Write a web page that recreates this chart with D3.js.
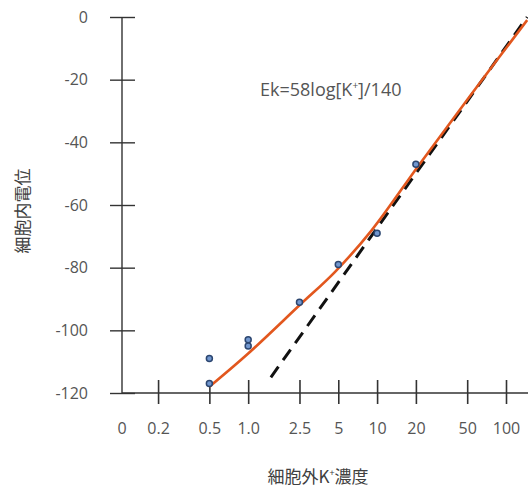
<!DOCTYPE html>
<html>
<head>
<meta charset="utf-8">
<script src="https://cdn.jsdelivr.net/npm/d3@7"></script>
<style type="text/css">
	body { margin:0; background:#fff; }
	svg text { font-family:"Open Sans", "Noto Sans", sans-serif; fill:#555; }
	.cjk { font-family:"Noto Sans CJK JP", "Noto Sans", sans-serif; fill:#404040; }
</style>
</head>
<body>
<svg id="chart" width="528" height="488"></svg>
<script type="text/javascript">
	// x: extracellular K+ (mM), y: membrane potential (mV)
	var xTicks = [0.2, 0.5, 1, 2.5, 5, 10, 20, 50, 100];
	var xTickLabels = ["0.2", "0.5", "1.0", "2.5", "5", "10", "20", "50", "100"];
	var yTicks = [0, -20, -40, -60, -80, -100, -120];

	// measured points
	var ptK = [0.5, 0.5, 1, 1, 2.5, 5, 10, 20];
	var ptV = [-109, -117, -103, -105, -91, -79, -69, -47];

	// orange fitted curve
	var fitK = [0.5, 1, 2.5, 4.7, 9.1, 20.8, 52.6, 146];
	var fitV = [-118, -107.4, -92, -81.4, -68, -47.6, -25.2, -1];

	// dashed Nernst line
	var nernstK = [1.5, 146];
	var nernstV = [-115, 0];

	var svg = d3.select("#chart");

	var x = d3.scaleLog().domain([0.105, 100]).range([122, 506]),
	    y = d3.scaleLinear().domain([0, -120]).range([17, 393]);

	// y axis
	var gy = svg.append("g")
	    .attr("transform", "translate(122,0)")
	    .call(d3.axisLeft(y).tickValues(yTicks).tickFormat(function(d){ return d; }));
	gy.select(".domain").remove();
	gy.selectAll(".tick line").attr("x1", -12).attr("x2", 13).attr("stroke", "#333").attr("stroke-width", 1.4);
	gy.selectAll(".tick text").attr("x", -34).attr("font-size", 16).attr("font-family", null).attr("fill", null);
	svg.append("line")
	    .attr("x1", 122).attr("x2", 122).attr("y1", y(0)).attr("y2", y(-120))
	    .attr("stroke", "#333").attr("stroke-width", 1.4);

	// x axis
	var gx = svg.append("g")
	    .attr("transform", "translate(0," + y(-120) + ")")
	    .call(d3.axisBottom(x).tickValues(xTicks).tickFormat(function(d, i){ return xTickLabels[i]; }));
	gx.select(".domain").remove();
	gx.selectAll(".tick line").attr("y1", -13).attr("y2", 11).attr("stroke", "#333").attr("stroke-width", 1.6);
	gx.selectAll(".tick text").attr("y", 30).attr("font-size", 16).attr("font-family", null).attr("fill", null);
	gx.append("text")
	    .attr("x", x.range()[0]).attr("y", 30).attr("dy", "0.71em")
	    .attr("text-anchor", "middle").attr("font-size", 16)
	    .text("0");
	svg.append("line")
	    .attr("x1", 122).attr("x2", 528).attr("y1", y(-120)).attr("y2", y(-120))
	    .attr("stroke", "#333").attr("stroke-width", 1.4);

	// dashed line
	var line = d3.line()
	    .x(function(d){ return x(d[0]); })
	    .y(function(d){ return y(d[1]); });

	svg.append("path")
	    .datum(d3.zip(nernstK, nernstV))
	    .attr("d", line)
	    .attr("fill", "none")
	    .attr("stroke", "#111")
	    .attr("stroke-width", 3)
	    .attr("stroke-dasharray", "13,8");

	// fitted curve
	svg.append("path")
	    .datum(d3.zip(fitK, fitV))
	    .attr("d", line.curve(d3.curveCatmullRom.alpha(0.5)))
	    .attr("fill", "none")
	    .attr("stroke", "#e2571e")
	    .attr("stroke-width", 2.6);

	// points
	svg.selectAll(".pt")
	    .data(d3.zip(ptK, ptV))
	    .enter().append("circle")
	      .attr("class", "pt")
	      .attr("cx", function(d){ return x(d[0]); })
	      .attr("cy", function(d){ return y(d[1]); })
	      .attr("r", 3)
	      .attr("fill", "#7197cf")
	      .attr("stroke", "#2c4670")
	      .attr("stroke-width", 1.5);

	// equation
	var eq = svg.append("text")
	    .attr("x", 260).attr("y", 96)
	    .attr("font-size", 18);
	eq.append("tspan").text("Ek=58log[K");
	eq.append("tspan").attr("font-size", 10).attr("dy", -7).text("+");
	eq.append("tspan").attr("dy", 7).text("]/140");

	// axis titles
	var xt = svg.append("text")
	    .attr("class", "cjk")
	    .attr("x", 318).attr("y", 483)
	    .attr("text-anchor", "middle")
	    .attr("font-size", 17);
	xt.append("tspan").text("細胞外K");
	xt.append("tspan").attr("font-size", 9).attr("dy", -7).text("+");
	xt.append("tspan").attr("dy", 7).text("濃度");

	svg.append("text")
	    .attr("class", "cjk")
	    .attr("transform", "translate(29,211) rotate(-90)")
	    .attr("text-anchor", "middle")
	    .attr("font-size", 17)
	    .text("細胞内電位");
</script>
</body>
</html>
